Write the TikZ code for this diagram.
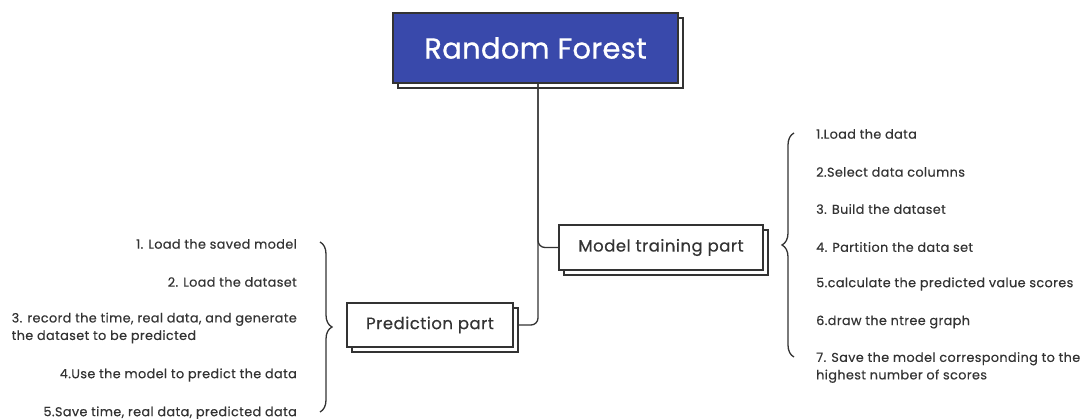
\documentclass[tikz,border=0pt]{standalone}
\usepackage{fontspec}
\setmainfont{Poppins}
\newfontfamily\itemfont{Poppins}[LetterSpace=3,FakeBold=0.4]
\newfontfamily\headfont{Poppins}[LetterSpace=1,FakeBold=0.8]
\usetikzlibrary{shadows,decorations.pathreplacing}
\definecolor{ink}{HTML}{333333}
\definecolor{indigo}{HTML}{3949AB}

\begin{document}
\begin{tikzpicture}[x=1pt,y=-1pt,
  framed/.style={draw=ink, line width=1.3pt, fill=white, inner sep=0pt,
    copy shadow={shadow xshift=5pt, shadow yshift=-5pt, draw=ink, line width=1.3pt, fill=white}},
  titlebox/.style={framed, fill=indigo, text=white, font=\headfont\fontsize{29}{34}\selectfont,
    minimum width=285pt, minimum height=70pt},
  partbox/.style={framed, text=ink, font=\itemfont\fontsize{16.5}{20}\selectfont, minimum height=45pt},
  item/.style={text=ink, inner sep=0pt, font=\itemfont\fontsize{12.8}{17.5}\selectfont},
  link/.style={draw=ink, line width=1.3pt, rounded corners=7pt},
  curly/.style={draw=ink, line width=1.3pt, decorate,
    decoration={brace, amplitude=12pt, aspect=0.5}},
]
\useasboundingbox (0,0) rectangle (1086,419);

% main boxes
\node[titlebox] (title) at (535.5,48) {Random Forest};
\node[partbox, minimum width=204pt] (train) at (661,247.5) {Model training part};
\node[partbox, minimum width=166pt, minimum height=44pt] (pred) at (430,325) {Prediction part};

% trunk and branches
\coordinate (trunk) at (538,83);
\draw[link] (trunk) |- (train.west);
\draw[link] (trunk) |- ([xshift=5pt]pred.east);

% training steps
\coordinate (tb1) at (794,357);
\coordinate (tb2) at (794,133);
\draw[curly] (tb1) -- (tb2);
\node[item, anchor=west] (t1) at (816,134) {1.Load the data};
\node[item, anchor=west] (t2) at (816,172) {2.Select data columns};
\node[item, anchor=west] (t3) at (816,209) {3. Build the dataset};
\node[item, anchor=west] (t4) at (816,247) {4. Partition the data set};
\node[item, anchor=west] (t5) at (816,284) {5.calculate the predicted value scores};
\node[item, anchor=west] (t6) at (816,322) {6.draw the ntree graph};
\node[item, anchor=west, align=left] (t7) at (816,367.5) {7. Save the model corresponding to the\\highest number of scores};

% prediction steps
\coordinate (pb1) at (320,242);
\coordinate (pb2) at (320,412);
\draw[curly] (pb1) -- (pb2);
\node[item, anchor=east] (p1) at (297,244) {1. Load the saved model};
\node[item, anchor=east] (p2) at (297,282) {2. Load the dataset};
\node[item, anchor=east, align=left] (p3) at (297,328) {3. record the time, real data, and generate\\the dataset to be predicted};
\node[item, anchor=east] (p4) at (297,375) {4.Use the model to predict the data};
\node[item, anchor=east] (p5) at (297,413) {5.Save time, real data, predicted data};
\end{tikzpicture}
\end{document}
